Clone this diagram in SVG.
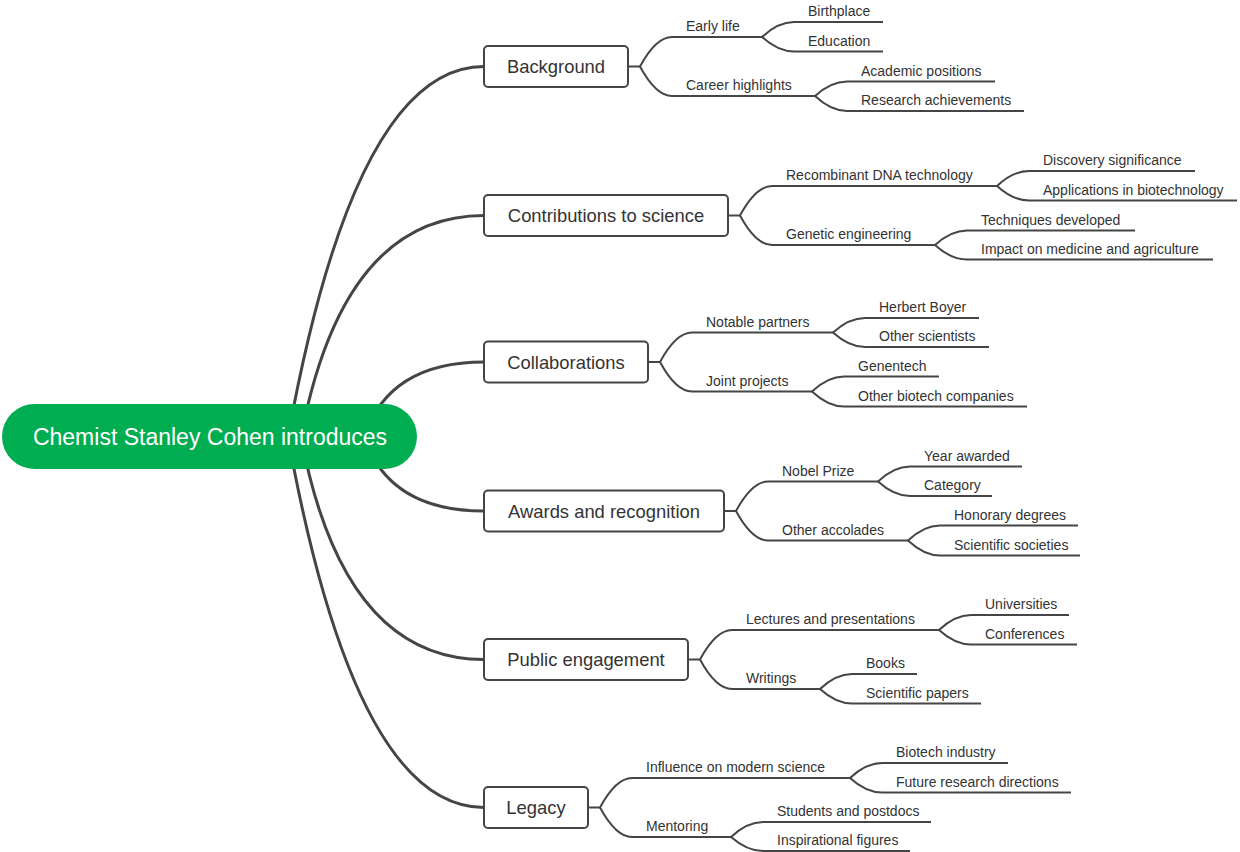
<svg xmlns="http://www.w3.org/2000/svg" width="1240" height="852" viewBox="0 0 1240 852">
<style>
.main{fill:none;stroke:#454545;stroke-width:3;stroke-linecap:round}
.sub{fill:none;stroke:#454545;stroke-width:2}
.box{fill:#ffffff;stroke:#454545;stroke-width:2}
.t1{font-family:"Liberation Sans",Arial,Helvetica,sans-serif;font-size:18.4px;fill:#333333;text-anchor:middle}
.t2{font-family:"Liberation Sans",Arial,Helvetica,sans-serif;font-size:14px;fill:#333333}
.root{font-family:"Liberation Sans",Arial,Helvetica,sans-serif;font-size:23px;fill:#ffffff;text-anchor:middle}
</style>
<rect width="1240" height="852" fill="#ffffff"/>
<g id="connectors">
<path class="main" d="M288 437 Q355 66.5 484 66.5"/>
<path class="main" d="M301 437 Q343 215.5 484 215.5"/>
<path class="main" d="M364 437 Q389 362 484 362"/>
<path class="main" d="M364 437 Q389 511 484 511"/>
<path class="main" d="M301 437 Q343 659.5 484 659.5"/>
<path class="main" d="M288 437 Q355 807.5 484 807.5"/>
<!-- Background -->
<path class="sub" d="M628 66.5 H640"/>
<path class="sub" d="M640 66.5 Q656 37 672 37 H762"/>
<path class="sub" d="M640 66.5 Q656 96 672 96 H815"/>
<path class="sub" d="M762 37 Q778 22 794 22 H883"/>
<path class="sub" d="M762 37 Q778 51.5 794 51.5 H883"/>
<path class="sub" d="M815 96 Q831 81.5 847 81.5 H995"/>
<path class="sub" d="M815 96 Q831 111 847 111 H1024"/>
<!-- Contributions -->
<path class="sub" d="M728 215.5 H740"/>
<path class="sub" d="M740 215.5 Q756 186 772 186 H997"/>
<path class="sub" d="M740 215.5 Q756 245 772 245 H935"/>
<path class="sub" d="M997 186 Q1013 171 1029 171 H1195"/>
<path class="sub" d="M997 186 Q1013 200.5 1029 200.5 H1237"/>
<path class="sub" d="M935 245 Q951 230.5 967 230.5 H1135"/>
<path class="sub" d="M935 245 Q951 259.5 967 259.5 H1213"/>
<!-- Collaborations -->
<path class="sub" d="M648 362 H660"/>
<path class="sub" d="M660 362 Q676 332.5 692 332.5 H833"/>
<path class="sub" d="M660 362 Q676 391.5 692 391.5 H812"/>
<path class="sub" d="M833 332.5 Q849 318 865 318 H979"/>
<path class="sub" d="M833 332.5 Q849 347 865 347 H989"/>
<path class="sub" d="M812 391.5 Q828 376.5 844 376.5 H939"/>
<path class="sub" d="M812 391.5 Q828 406.5 844 406.5 H1027"/>
<!-- Awards -->
<path class="sub" d="M724 511 H736"/>
<path class="sub" d="M736 511 Q752 481.5 768 481.5 H878"/>
<path class="sub" d="M736 511 Q752 540.5 768 540.5 H908"/>
<path class="sub" d="M878 481.5 Q894 466.5 910 466.5 H1022"/>
<path class="sub" d="M878 481.5 Q894 496 910 496 H992"/>
<path class="sub" d="M908 540.5 Q924 525.5 940 525.5 H1078"/>
<path class="sub" d="M908 540.5 Q924 555.5 940 555.5 H1080"/>
<!-- Public engagement -->
<path class="sub" d="M688 659.5 H700"/>
<path class="sub" d="M700 659.5 Q716 630 732 630 H939"/>
<path class="sub" d="M700 659.5 Q716 689 732 689 H820"/>
<path class="sub" d="M939 630 Q955 615 971 615 H1069"/>
<path class="sub" d="M939 630 Q955 644.5 971 644.5 H1077"/>
<path class="sub" d="M820 689 Q836 674 852 674 H917"/>
<path class="sub" d="M820 689 Q836 703.5 852 703.5 H981"/>
<!-- Legacy -->
<path class="sub" d="M588 807.5 H600"/>
<path class="sub" d="M600 807.5 Q616 778 632 778 H850"/>
<path class="sub" d="M600 807.5 Q616 837 632 837 H731"/>
<path class="sub" d="M850 778 Q866 763 882 763 H1008"/>
<path class="sub" d="M850 778 Q866 792.5 882 792.5 H1071"/>
<path class="sub" d="M731 837 Q747 822 763 822 H931"/>
<path class="sub" d="M731 837 Q747 851 763 851 H910"/>
</g>
<g id="root">
<rect x="2" y="404" width="415" height="65" rx="32.5" fill="#01AD51"/>
<text class="root" x="210" y="445">Chemist Stanley Cohen introduces</text>
</g>
<g id="background">
<rect class="box" x="484" y="46" width="144" height="41" rx="4"/>
<text class="t1" x="556" y="73">Background</text>
</g>
<g id="early-life"><text class="t2" x="686" y="31">Early life</text></g>
<g id="birthplace"><text class="t2" x="808" y="16">Birthplace</text></g>
<g id="education"><text class="t2" x="808" y="45.5">Education</text></g>
<g id="career-highlights"><text class="t2" x="686" y="90">Career highlights</text></g>
<g id="academic-positions"><text class="t2" x="861" y="75.5">Academic positions</text></g>
<g id="research-achievements"><text class="t2" x="861" y="105">Research achievements</text></g>
<g id="contributions">
<rect class="box" x="484" y="195" width="244" height="41" rx="4"/>
<text class="t1" x="606" y="222">Contributions to science</text>
</g>
<g id="recombinant-dna"><text class="t2" x="786" y="180">Recombinant DNA technology</text></g>
<g id="discovery-significance"><text class="t2" x="1043" y="165">Discovery significance</text></g>
<g id="applications-biotech"><text class="t2" x="1043" y="194.5">Applications in biotechnology</text></g>
<g id="genetic-engineering"><text class="t2" x="786" y="239">Genetic engineering</text></g>
<g id="techniques-developed"><text class="t2" x="981" y="224.5">Techniques developed</text></g>
<g id="impact-medicine"><text class="t2" x="981" y="253.5">Impact on medicine and agriculture</text></g>
<g id="collaborations">
<rect class="box" x="484" y="341.5" width="164" height="41" rx="4"/>
<text class="t1" x="566" y="368.5">Collaborations</text>
</g>
<g id="notable-partners"><text class="t2" x="706" y="326.5">Notable partners</text></g>
<g id="herbert-boyer"><text class="t2" x="879" y="312">Herbert Boyer</text></g>
<g id="other-scientists"><text class="t2" x="879" y="341">Other scientists</text></g>
<g id="joint-projects"><text class="t2" x="706" y="385.5">Joint projects</text></g>
<g id="genentech"><text class="t2" x="858" y="370.5">Genentech</text></g>
<g id="other-biotech"><text class="t2" x="858" y="400.5">Other biotech companies</text></g>
<g id="awards">
<rect class="box" x="484" y="490.5" width="240" height="41" rx="4"/>
<text class="t1" x="604" y="517.5">Awards and recognition</text>
</g>
<g id="nobel-prize"><text class="t2" x="782" y="475.5">Nobel Prize</text></g>
<g id="year-awarded"><text class="t2" x="924" y="460.5">Year awarded</text></g>
<g id="category"><text class="t2" x="924" y="490">Category</text></g>
<g id="other-accolades"><text class="t2" x="782" y="534.5">Other accolades</text></g>
<g id="honorary-degrees"><text class="t2" x="954" y="519.5">Honorary degrees</text></g>
<g id="scientific-societies"><text class="t2" x="954" y="549.5">Scientific societies</text></g>
<g id="public-engagement">
<rect class="box" x="484" y="639" width="204" height="41" rx="4"/>
<text class="t1" x="586" y="666">Public engagement</text>
</g>
<g id="lectures"><text class="t2" x="746" y="624">Lectures and presentations</text></g>
<g id="universities"><text class="t2" x="985" y="609">Universities</text></g>
<g id="conferences"><text class="t2" x="985" y="638.5">Conferences</text></g>
<g id="writings"><text class="t2" x="746" y="683">Writings</text></g>
<g id="books"><text class="t2" x="866" y="668">Books</text></g>
<g id="scientific-papers"><text class="t2" x="866" y="697.5">Scientific papers</text></g>
<g id="legacy">
<rect class="box" x="484" y="787" width="104" height="41" rx="4"/>
<text class="t1" x="536" y="814">Legacy</text>
</g>
<g id="influence"><text class="t2" x="646" y="772">Influence on modern science</text></g>
<g id="biotech-industry"><text class="t2" x="896" y="757">Biotech industry</text></g>
<g id="future-research"><text class="t2" x="896" y="786.5">Future research directions</text></g>
<g id="mentoring"><text class="t2" x="646" y="831">Mentoring</text></g>
<g id="students-postdocs"><text class="t2" x="777" y="816">Students and postdocs</text></g>
<g id="inspirational-figures"><text class="t2" x="777" y="845">Inspirational figures</text></g>
</svg>
